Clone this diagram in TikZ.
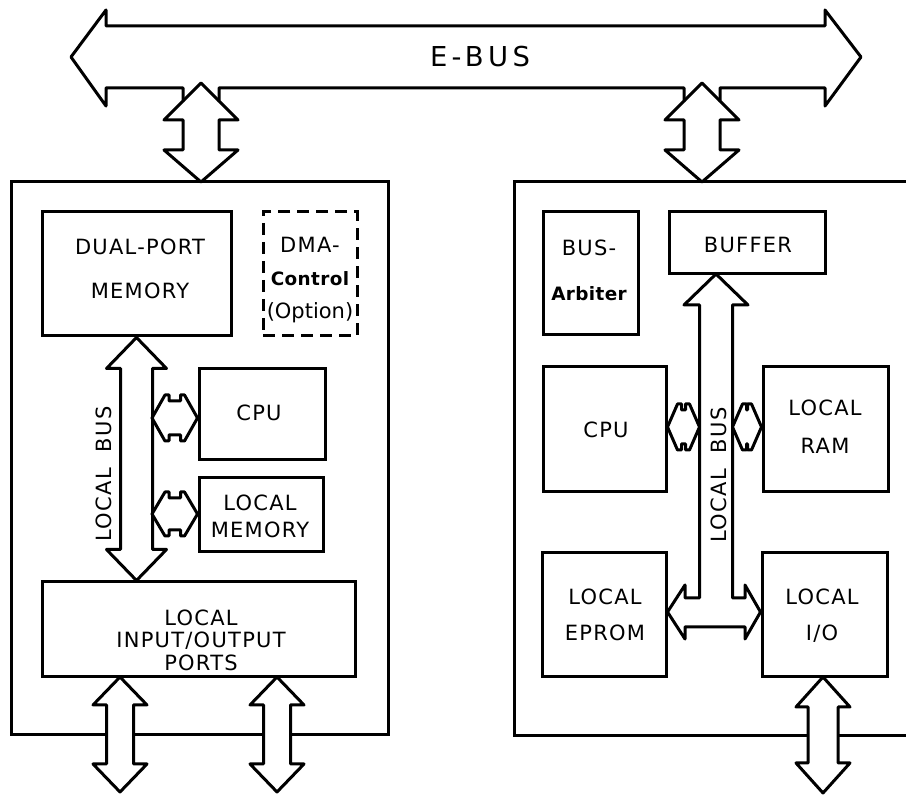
\documentclass[tikz,border=0pt]{standalone}
\usepackage{fontspec}
\setmainfont{DejaVu Sans}[LetterSpace=6]
\usetikzlibrary{calc,fit}

% vertical double block arrow: #1 top tip, #2 bottom tip, #3 head half width,
% #4 shaft half width, #5 head length
\newcommand\vdouble[5]{%
  \draw[blk] #1 -- ($#1+(#3,#5)$) -- ($#1+(#4,#5)$) -- ($#2+(#4,-#5)$)
    -- ($#2+(#3,-#5)$) -- #2 -- ($#2+(-#3,-#5)$) -- ($#2+(-#4,-#5)$)
    -- ($#1+(-#4,#5)$) -- ($#1+(-#3,#5)$) -- cycle;}
% short horizontal double block arrow with flat-backed heads:
% #1 left tip, #2 right tip, #3 head half height, #4 shaft half height,
% #5 head length (tip to the flat back)
\newcommand\hdouble[5]{%
  \draw[blk] #1 -- ($#1+(#5-4,-#3)$) -- ($#1+(#5,-#3)$) -- ($#1+(#5,-#4)$)
    -- ($#2+(-#5,-#4)$) -- ($#2+(-#5,-#3)$) -- ($#2+(-#5+4,-#3)$) -- #2
    -- ($#2+(-#5+4,#3)$) -- ($#2+(-#5,#3)$) -- ($#2+(-#5,#4)$)
    -- ($#1+(#5,#4)$) -- ($#1+(#5,#3)$) -- ($#1+(#5-4,#3)$) -- cycle;}

\begin{document}
\begin{tikzpicture}[x=0.5pt,y=-0.5pt,
  frame/.style={draw, line width=1.5pt, inner sep=0pt},
  unit/.style={draw, line width=1.5pt, inner sep=0pt},
  blk/.style={draw, fill=white, line width=1.5pt, line join=round},
  lbl/.style={font=\fontsize{10.5}{#1}\selectfont, align=center, inner sep=0pt},
  lbl/.default=13pt]

\useasboundingbox (0,0) rectangle (906,795);
\clip (0,0) rectangle (906,795);
\fill[white] (0,0) rectangle (906,795);

% host boards
\node[frame, fit={(11,182) (388,735)}] (lhost) {};
\node[frame, fit={(514,182) (940,736)}] (rhost) {};

% E-BUS with the two taps down to the boards
\draw[blk] (71,57) -- (106,10) -- (106,26) -- (825,26) -- (825,10) -- (861,57)
  -- (825,106) -- (825,88)
  -- (720,88) -- (720,101) -- (739,120) -- (720,120) -- (720,150) -- (739,150)
  -- (702,182) -- (665,150) -- (684,150) -- (684,120) -- (665,120) -- (684,101) -- (684,88)
  -- (219,88) -- (219,101) -- (238,120) -- (219,120) -- (219,150) -- (238,150)
  -- (201,182) -- (164,150) -- (183,150) -- (183,120) -- (164,120) -- (183,101) -- (183,88)
  -- (106,88) -- (106,106) -- cycle;
\draw[line width=1.5pt, line join=round] (183,101) -- (201,83) -- (219,101);
\draw[line width=1.5pt, line join=round] (684,101) -- (702,83) -- (720,101);
\node[font=\fontsize{13.7}{16}\selectfont\addfontfeature{LetterSpace=16}, inner sep=0pt] (ebus) at (480,57) {E-BUS};

% left board units
\node[unit, fit={(42,212) (231,336)}] (dpm) {};
\node[unit, dashed, dash pattern=on 6pt off 3.5pt, fit={(263,212) (357,336)}] (dma) {};
\node[unit, fit={(199,369) (325,460)}] (cpuL) {};
\node[unit, fit={(199,478) (323,552)}] (lmem) {};
\node[unit, fit={(42,582) (355,677)}] (lio) {};

\node[lbl=22pt] (tdpm) at (140,269) {DUAL-PORT\\MEMORY};
\node[lbl=16.5pt] (tdma) at (310,280) {DMA-\\{\fontsize{9.2}{11}\selectfont\bfseries\addfontfeature{LetterSpace=2}Control}\\{\addfontfeature{LetterSpace=0}(Option)}};
\node[lbl] (tcpuL) at (259,413) {CPU};
\node[lbl=13.5pt] (tlmem) at (260,516.5) {LOCAL\\MEMORY};
\node[lbl=11.25pt] (tlio) at (201,640) {LOCAL\\INPUT/OUTPUT\\PORTS};

% left local bus
\vdouble{(dpm.south)}{(dpm.south |- lio.north)}{30}{16}{31}
\node[lbl, rotate=90] (tlbus) at (104,474) {LOCAL\ \ BUS};
\coordinate (lbr) at (152,418);
\hdouble{(lbr)}{(lbr -| cpuL.west)}{23}{17}{17}
\hdouble{(lbr |- 0,514)}{(lmem.west |- 0,514)}{22}{16}{17}

% left board I/O ports
\vdouble{(120,677)}{(120,792)}{27}{13.5}{28}
\vdouble{(277,677)}{(277,792)}{27}{13.5}{28}

% right board units
\node[unit, fit={(543,212) (638,335)}] (arb) {};
\node[unit, fit={(669,212) (825,274)}] (buf) {};
\node[unit, fit={(543,367) (666,492)}] (cpuR) {};
\node[unit, fit={(763,367) (888,492)}] (ram) {};
\node[unit, fit={(542,553) (666,677)}] (eprom) {};
\node[unit, fit={(762,553) (887,677)}] (rio) {};

\node[lbl=22.5pt] (tarb) at (589,270) {BUS-\\{\fontsize{9.2}{11}\selectfont\bfseries\addfontfeature{LetterSpace=2}Arbiter}};
\node[lbl] (tbuf) at (748,245) {BUFFER};
\node[lbl] (tcpuR) at (606,430) {CPU};
\node[lbl=19pt] (tram) at (825,427) {LOCAL\\RAM};
\node[lbl=18pt] (teprom) at (605,615) {LOCAL\\EPROM};
\node[lbl=18pt] (trio) at (822,616) {LOCAL\\I/O};

% right local bus: from the buffer down, branching to EPROM and I/O
\coordinate (rtip) at (716,274);
\draw[blk] (rtip) -- (748,305) -- (732.5,305) -- (732.5,598) -- (745,598) -- (745,585)
  -- (rio.west |- 0,612) -- (745,639) -- (745,627) -- (685,627) -- (685,639)
  -- (eprom.east |- 0,612) -- (685,585) -- (685,598) -- (699.5,598) -- (699.5,305)
  -- (684,305) -- cycle;
\node[lbl, rotate=90] (trbus) at (719,475) {LOCAL\ \ BUS};
\hdouble{(cpuR.east |- 0,427)}{(699.5,427)}{23}{17}{14}
\hdouble{(732.5,427)}{(ram.west |- 0,427)}{23}{17}{14}

% right board I/O
\vdouble{(823,677)}{(823,793)}{27}{15}{30}
\end{tikzpicture}
\end{document}
